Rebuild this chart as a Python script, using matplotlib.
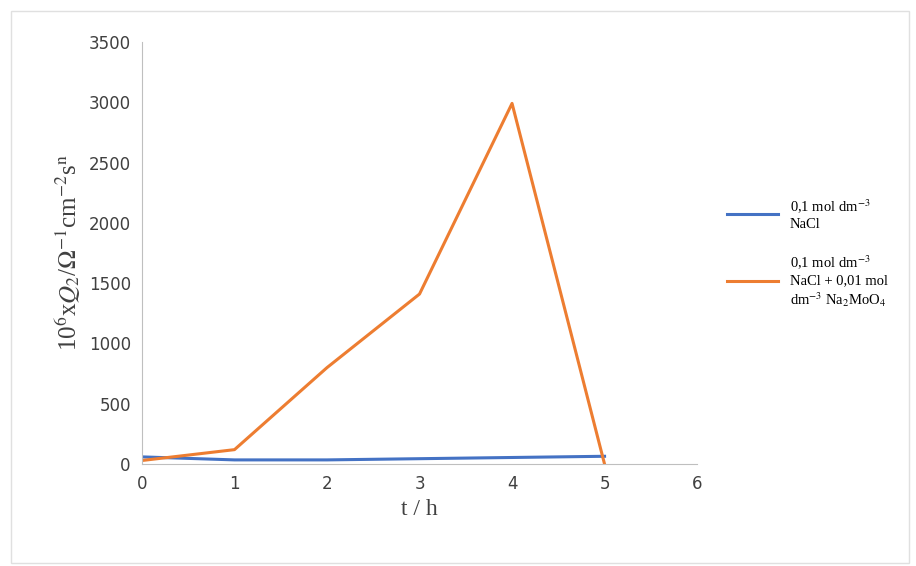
import matplotlib.pyplot as plt

hours = [0, 1, 2, 3, 4, 5]
nacl = [60, 35, 35, 45, 55, 65]
nacl_moo4 = [30, 120, 800, 1410, 2990, 0]

plt.rcParams['mathtext.fontset'] = 'stix'

fig = plt.figure(figsize=(9.16, 5.66), dpi=100)
ax = fig.add_axes([0.155, 0.18, 0.606, 0.746])
fig.patches.append(plt.Rectangle((0.012, 0.005), 0.98, 0.975, transform=fig.transFigure,
                                 fill=False, edgecolor='#e0e0e0', linewidth=1))

ax.plot(hours, nacl, color='#4472c4', linewidth=2.2, label='0,1 mol dm$^{-3}$\nNaCl')
ax.plot(hours, nacl_moo4, color='#ed7d31', linewidth=2.2,
        label='0,1 mol dm$^{-3}$\nNaCl + 0,01 mol\ndm$^{-3}$ Na$_2$MoO$_4$')

ax.set_xlim(0, 6)
ax.set_ylim(0, 3500)
ax.set_xticks(range(0, 7))
ax.set_yticks(range(0, 3501, 500))
for s in ['top', 'right']:
    ax.spines[s].set_visible(False)
for s in ['left', 'bottom']:
    ax.spines[s].set_color('#bfbfbf')
ax.tick_params(length=0, labelsize=12, colors='#404040', pad=8)
ax.set_xlabel('t / h', fontsize=17, family='Liberation Serif', color='#404040')
ax.set_ylabel(r'10$^6$x$Q_2$/$\Omega^{-1}$cm$^{-2}$s$^{\mathrm{n}}$', fontsize=18,
              family='Liberation Serif', color='#404040', labelpad=4)
ax.legend(loc='center left', bbox_to_anchor=(1.03, 0.5), frameon=False,
          prop={'family': 'Liberation Serif', 'size': 10.5}, labelspacing=1.6,
          handlelength=3.5)

fig.savefig('out.png')
